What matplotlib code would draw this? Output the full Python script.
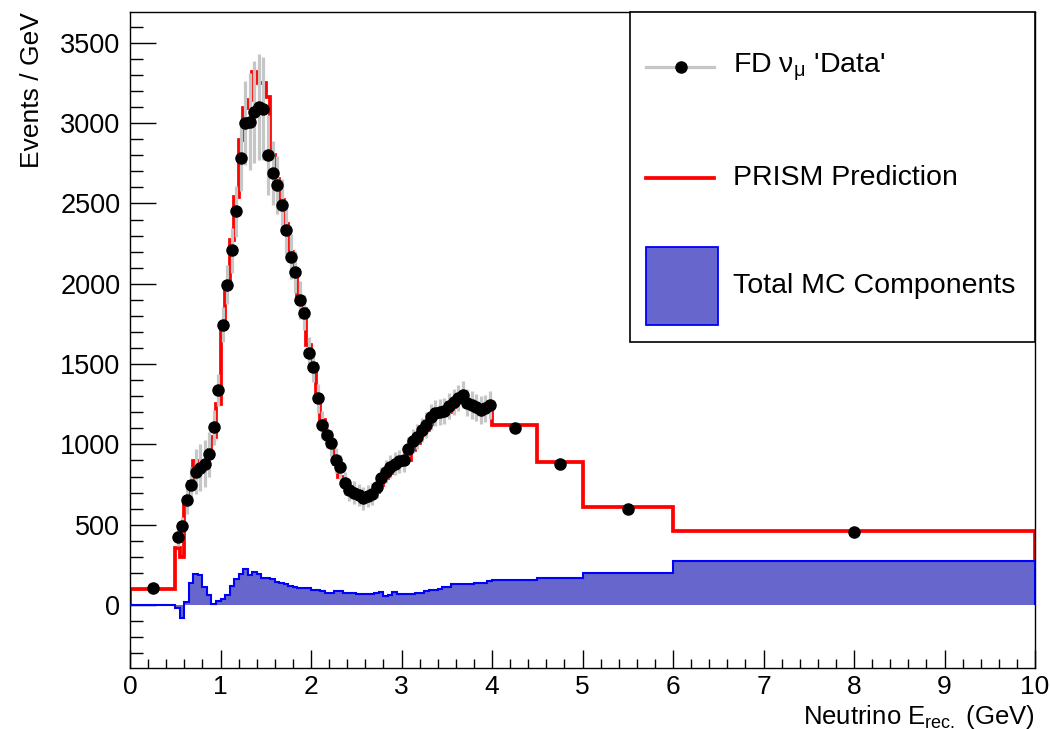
import numpy as np
import matplotlib
matplotlib.use("Agg")
import matplotlib.pyplot as plt
from matplotlib.patches import Rectangle
from matplotlib.lines import Line2D
from matplotlib.ticker import MultipleLocator

plt.rcParams['font.family'] = ['Liberation Sans', 'DejaVu Sans']
plt.rcParams['mathtext.fontset'] = 'custom'
plt.rcParams['mathtext.rm'] = 'Liberation Sans'
plt.rcParams['mathtext.it'] = 'Liberation Sans:italic'
plt.rcParams['mathtext.bf'] = 'Liberation Sans:bold'

# ---------------- data ----------------
fine_edges = np.round(np.arange(0.5, 4.0 + 1e-9, 0.05), 2)
bin_edges = np.concatenate([[0.0], fine_edges, [4.5, 5.0, 6.0, 10.0]])

prism_pred = [97,
    353, 297, 640, 765, 895, 886, 886, 965, 1048, 1250,
    1720, 2005, 2273, 2542, 2895, 3093, 3144, 3321, 3248, 3248,
    3165, 2800, 2650, 2520, 2370, 2200, 2080, 1900, 1840, 1620,
    1500, 1310, 1150, 1080, 1000, 880, 800, 740, 700, 690,
    674, 674, 674, 680, 705, 747, 789, 820, 851, 880,
    895, 903, 965, 1007, 1059, 1090, 1130, 1173, 1183, 1183,
    1200, 1235, 1266, 1287, 1260, 1245, 1235, 1235, 1235, 1235,
    1118, 890, 612, 461]

fd_data = [106,
    425, 490, 654, 750, 830, 855, 880, 940, 1106, 1340,
    1745, 1995, 2210, 2450, 2780, 3000, 3010, 3070, 3100, 3090,
    2800, 2690, 2615, 2490, 2335, 2169, 2075, 1899, 1820, 1567,
    1484, 1287, 1121, 1060, 1007, 900, 861, 757, 716, 700,
    685, 664, 680, 690, 735, 790, 830, 861, 880, 895,
    903, 970, 1020, 1048, 1090, 1121, 1170, 1194, 1200, 1210,
    1240, 1266, 1290, 1308, 1260, 1245, 1230, 1214, 1225, 1245,
    1100, 875, 598, 457]

fd_err = [12,
    55, 60, 90, 110, 140, 145, 145, 140, 110, 100,
    110, 120, 140, 160, 200, 260, 300, 320, 330, 320,
    250, 200, 180, 160, 150, 140, 130, 120, 110, 100,
    95, 90, 85, 80, 80, 75, 75, 70, 70, 70,
    70, 70, 70, 70, 68, 70, 72, 72, 70, 72,
    74, 74, 75, 76, 76, 78, 80, 80, 80, 80,
    80, 82, 82, 84, 84, 85, 85, 85, 85, 85,
    20, 18, 12, 8]

mc_total = [3,
    -20, -80, 20, 140, 195, 190, 114, 60, 5, 25,
    40, 60, 120, 165, 195, 225, 190, 205, 195, 170,
    166, 160, 145, 135, 128, 120, 115, 108, 104, 104,
    95, 93, 85, 77, 77, 85, 85, 77, 77, 77,
    68, 68, 68, 68, 72, 79, 56, 60, 79, 68,
    68, 68, 68, 77, 77, 90, 93, 93, 100, 110,
    115, 129, 129, 131, 131, 133, 135, 135, 140, 150,
    156, 168, 200, 274]

bin_centers = 0.5 * (bin_edges[:-1] + bin_edges[1:])

# ---------------- figure ----------------
W, H = 1050, 729
fig = plt.figure(figsize=(W / 100, H / 100), dpi=100)
L, R, T, B = 130, 1035, 12, 668
ax = fig.add_axes([L / W, 1 - B / H, (R - L) / W, (B - T) / H])

ax.stairs(prism_pred, bin_edges, color='#ff0000', lw=2.7, baseline=0, zorder=2)
ax.stairs(mc_total, bin_edges, fill=True, color='#6666cc', zorder=3)
ax.stairs(mc_total, bin_edges, color='#0000ff', lw=1.5, baseline=0, zorder=3.5)
ax.errorbar(bin_centers, fd_data, yerr=fd_err, fmt='none', ecolor='#c6c6c6',
            elinewidth=2.3, capsize=0, zorder=4)
ax.plot(bin_centers, fd_data, 'o', color='black', ms=8, zorder=5)

ax.set_xlim(0, 10)
ax.set_ylim(-392, 3692)
ax.xaxis.set_major_locator(MultipleLocator(1))
ax.xaxis.set_minor_locator(MultipleLocator(0.2))
ax.yaxis.set_major_locator(MultipleLocator(500))
ax.yaxis.set_minor_locator(MultipleLocator(100))
ax.tick_params(which='both', direction='in', top=False, right=False, width=1,
               labelsize=19.5, colors='black')
ax.tick_params(axis='x', which='major', length=13, pad=5, labelsize=19)
ax.tick_params(axis='x', which='minor', length=6.5)
ax.tick_params(axis='y', which='major', length=19, pad=7)
ax.tick_params(axis='y', which='minor', length=9.5)
for s in ax.spines.values():
    s.set_linewidth(1.0)

ax.set_xlabel(r'Neutrino E$_{\mathrm{rec.}}$ (GeV)', fontsize=18.5, loc='right')
ax.xaxis.set_label_coords(1.0, -(703 - B) / (B - T))
ax.set_ylabel('Events / GeV', fontsize=19, loc='top')
ax.yaxis.set_label_coords((32 - L) / (R - L), 1.0)
ax.yaxis.label.set_va('center')

# ---------------- legend (ROOT style box) ----------------
def axx(px):
    return (px - L) / (R - L)

def axy(py):
    return (B - py) / (B - T)

box = Rectangle((axx(630), axy(342)), axx(1035) - axx(630), axy(12) - axy(342),
                transform=ax.transAxes, facecolor='white', edgecolor='black',
                lw=1.2, zorder=10, clip_on=False)
ax.add_patch(box)

y1, y2, y3 = 67, 178, 286
ax.add_line(Line2D([axx(646), axx(714)], [axy(y1), axy(y1)], color='#c6c6c6', lw=2.3,
                   transform=ax.transAxes, zorder=11))
ax.add_line(Line2D([axx(681)], [axy(y1)], marker='o', color='black', ms=8,
                   transform=ax.transAxes, zorder=12))
ax.add_line(Line2D([axx(646), axx(714)], [axy(y2), axy(y2)], color='#ff0000', lw=2.7,
                   transform=ax.transAxes, zorder=11))
ax.add_patch(Rectangle((axx(646), axy(325)), axx(718) - axx(646), axy(247) - axy(325),
                       transform=ax.transAxes, facecolor='#6666cc', edgecolor='#0000ff',
                       lw=1.3, zorder=11))

tx = axx(733)
ax.text(tx, axy(y1), r"FD $\mathrm{\nu_{\mu}}$ 'Data'", transform=ax.transAxes,
        fontsize=20.5, va='center', ha='left', zorder=12)
ax.text(tx, axy(y2), 'PRISM Prediction', transform=ax.transAxes,
        fontsize=20.5, va='center', ha='left', zorder=12)
ax.text(tx, axy(y3), 'Total MC Components', transform=ax.transAxes,
        fontsize=20.5, va='center', ha='left', zorder=12)

fig.savefig('out.png', dpi=100, facecolor='white')
